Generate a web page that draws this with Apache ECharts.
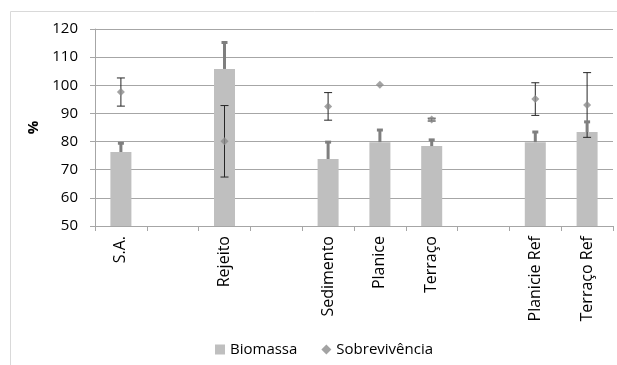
<!DOCTYPE html>
<html><head><meta charset="utf-8">
<script src="https://cdn.jsdelivr.net/npm/echarts@6/dist/echarts.min.js"></script>
<style>html,body{margin:0;padding:0;background:#fff}#c{width:617px;height:365px}</style>
</head><body><div id="c"></div>
<script>
var categories = ['S.A.', '', 'Rejeito', '', 'Sedimento', 'Planice', 'Terraço', '', 'Planicie Ref', 'Terraço Ref'];
var biomassa = [76.3, null, 105.8, null, 73.8, 79.8, 78.4, null, 79.8, 83.4];
var biomassaErr = [3.1, null, 9.4, null, 6.0, 4.3, 2.2, null, 3.6, 3.6];
var sobrev = [97.6, null, 80.1, null, 92.5, 100.2, 87.8, null, 95.1, 93.0];
var sobrevErr = [5.0, null, 12.7, null, 4.9, 0, 0.5, null, 5.8, 11.5];
var yTicks = [50, 60, 70, 80, 90, 100, 110, 120];

var FONT = 'Open Sans';
var chart = echarts.init(document.getElementById('c'), null, {renderer: 'canvas'});

var bioErrData = [], sobErrData = [];
categories.forEach(function (c, i) {
  if (biomassa[i] != null) bioErrData.push([i, biomassa[i], biomassa[i] + biomassaErr[i]]);
  if (sobrev[i] != null && sobrevErr[i] > 0) sobErrData.push([i, sobrev[i] - sobrevErr[i], sobrev[i] + sobrevErr[i]]);
});

function errRender(color, width, capW, upOnly) {
  return function (params, api) {
    var x = api.value(0);
    var lo = api.coord([x, api.value(1)]);
    var hi = api.coord([x, api.value(2)]);
    var half = capW / 2;
    var children = [
      {type: 'line', shape: {x1: lo[0], y1: lo[1], x2: hi[0], y2: hi[1]}, style: {stroke: color, lineWidth: width}},
      {type: 'line', shape: {x1: hi[0] - half, y1: hi[1], x2: hi[0] + half, y2: hi[1]}, style: {stroke: color, lineWidth: upOnly ? 3 : 1}}
    ];
    if (!upOnly) children.push({type: 'line', shape: {x1: lo[0] - half, y1: lo[1], x2: lo[0] + half, y2: lo[1]}, style: {stroke: color, lineWidth: 1}});
    return {type: 'group', children: children};
  };
}

chart.setOption({
  animation: false,
  textStyle: {fontFamily: FONT},
  graphic: [{type: 'rect', shape: {x: 10.5, y: 11.5, width: 620, height: 400}, style: {fill: 'none', stroke: '#d9d9d9', lineWidth: 1}, silent: true}],
  grid: {left: 95, right: 4, top: 29, bottom: 139},
  legend: {
    top: 337, left: 210, itemGap: 24, itemWidth: 10, itemHeight: 10,
    textStyle: {fontFamily: FONT, fontSize: 15, color: '#000'},
    data: [{name: 'Biomassa', icon: 'rect'}, {name: 'Sobrevivência', icon: 'diamond', itemStyle: {color: '#8c8c8c'}}]
  },
  xAxis: {
    type: 'category', data: categories,
    axisLine: {lineStyle: {color: '#a6a6a6'}},
    axisTick: {show: true, alignWithLabel: false, length: 5, lineStyle: {color: '#a6a6a6'}},
    axisLabel: {rotate: 90, interval: 0, fontSize: 16, color: '#000', fontFamily: FONT, margin: 10}
  },
  yAxis: {
    type: 'value', min: 50, max: 120, interval: 10,
    name: '%', nameLocation: 'middle', nameGap: 50, nameRotate: 90,
    nameTextStyle: {fontSize: 15, color: '#000', fontWeight: 'bold', fontFamily: FONT},
    axisLine: {show: true, lineStyle: {color: '#a6a6a6'}},
    axisTick: {show: true, length: 5, lineStyle: {color: '#a6a6a6'}},
    axisLabel: {fontSize: 15, color: '#000', margin: 17, fontFamily: FONT,
      formatter: function (v) { return yTicks.indexOf(v) >= 0 ? String(v) : ''; }},
    splitLine: {lineStyle: {color: '#a6a6a6'}}
  },
  series: [
    {name: 'Biomassa', type: 'bar', data: biomassa, barWidth: 21, itemStyle: {color: '#bfbfbf'}, z: 2},
    {name: 'Sobrevivência', type: 'scatter', data: sobrev, symbol: 'diamond', symbolSize: 8, itemStyle: {color: '#8c8c8c'}, z: 5},
    {name: 'sobErr', type: 'custom', data: sobErrData, renderItem: errRender('#262626', 1, 8, false), z: 4, silent: true},
    {name: 'bioErr', type: 'custom', data: bioErrData, renderItem: errRender('#7f7f7f', 3, 6, true), z: 6, silent: true}
  ]
});
</script></body></html>
